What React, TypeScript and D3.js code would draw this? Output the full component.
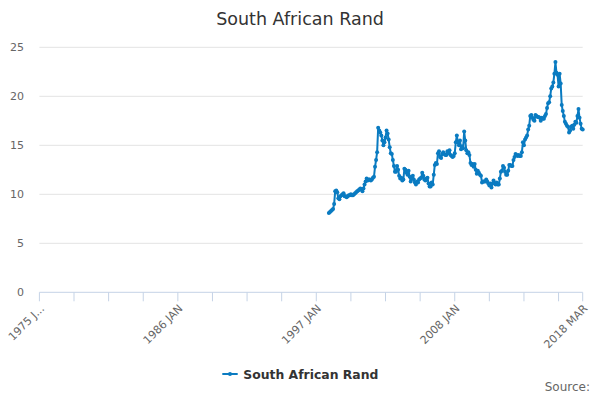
import React from "react";
import * as d3 from "d3";

// Monthly categories Jan 1975 .. Mar 2018 (519 months)
const startYear = 1975;
const monthCount = 519;
const monthNames = ["JAN","FEB","MAR","APR","MAY","JUN","JUL","AUG","SEP","OCT","NOV","DEC"];
const categories: string[] = Array.from({ length: monthCount }, (_, i) =>
  `${startYear + Math.floor(i / 12)} ${monthNames[i % 12]}`
);

// Series begins at 1998 JAN (category index 276)
const seriesStart = "1998 JAN";
const randValues: number[] = [
  // 1998
  8.1, 8.2, 8.3, 8.4, 8.5, 9.0, 10.3, 10.4, 10.2, 9.6, 9.5, 9.8,
  // 1999
  9.9, 10.0, 10.1, 9.8, 9.8, 9.7, 9.8, 9.9, 9.9, 10.0, 9.9, 9.9,
  // 2000
  10.0, 10.1, 10.2, 10.3, 10.4, 10.5, 10.6, 10.5, 10.3, 10.6, 11.0, 11.3,
  // 2001
  11.6, 11.4, 11.5, 11.5, 11.4, 11.5, 11.7, 11.8, 12.8, 13.5, 14.3, 16.8,
  // 2002
  16.5, 16.3, 16.0, 15.5, 15.0, 15.3, 15.8, 16.5, 16.2, 15.6, 14.8, 14.2,
  // 2003
  14.1, 13.5, 12.9, 12.3, 12.3, 12.9, 12.5, 11.9, 11.6, 11.7, 11.4, 11.5,
  // 2004
  12.6, 12.5, 12.2, 12.0, 12.4, 11.8, 11.3, 11.7, 11.9, 11.5, 11.2, 11.0,
  // 2005
  11.3, 11.2, 11.5, 11.6, 11.7, 12.2, 11.9, 11.5, 11.4, 11.6, 11.7, 11.1,
  // 2006
  10.8, 10.8, 11.2, 11.0, 12.0, 13.0, 13.2, 13.1, 14.2, 14.4, 13.8, 13.7,
  // 2007
  14.1, 14.3, 14.1, 14.0, 14.0, 14.4, 14.2, 14.5, 14.0, 13.9, 13.8, 13.9,
  // 2008
  14.2, 15.3, 16.0, 15.3, 15.0, 15.5, 14.6, 14.9, 14.7, 16.4, 15.5, 14.5,
  // 2009
  14.2, 14.3, 14.0, 13.2, 13.0, 13.1, 12.8, 13.1, 12.5, 12.1, 12.4, 12.2,
  // 2010
  12.0, 11.9, 11.2, 11.3, 11.3, 11.3, 11.5, 11.3, 11.1, 10.9, 11.1, 10.7,
  // 2011
  11.1, 11.4, 11.1, 11.0, 11.2, 11.0, 11.0, 11.6, 12.3, 12.4, 12.9, 12.7,
  // 2012
  12.3, 12.0, 12.0, 12.4, 13.0, 13.0, 12.9, 12.9, 13.5, 13.8, 14.1, 14.0,
  // 2013
  13.9, 14.0, 13.9, 13.9, 14.3, 15.3, 15.0, 15.6, 15.8, 16.0, 16.6, 17.0,
  // 2014
  18.0, 18.1, 17.8, 17.6, 17.5, 18.1, 18.0, 17.9, 17.9, 17.8, 17.5, 17.8,
  // 2015
  17.7, 17.7, 18.0, 18.2, 18.8, 19.3, 19.4, 20.0, 20.8, 21.0, 21.4, 22.3,
  // 2016
  23.5, 22.4, 22.2, 21.0, 22.3, 21.3, 19.1, 18.5, 18.0, 17.4, 17.2, 17.0,
  // 2017
  16.9, 16.3, 16.5, 16.9, 17.0, 16.7, 17.1, 17.4, 17.3, 18.0, 18.7, 17.8,
  // 2018
  17.2, 16.7, 16.6,
];

const yTicks = [0, 5, 10, 15, 20, 25];
const xTickStep = 33;
const xLabels = [
  { cat: "1975 JAN", text: "1975 J..." },
  { cat: "1986 JAN", text: "1986 JAN" },
  { cat: "1997 JAN", text: "1997 JAN" },
  { cat: "2008 JAN", text: "2008 JAN" },
  { cat: "2018 MAR", text: "2018 MAR" },
];

const title = "South African Rand";
const seriesName = "South African Rand";
const sourceText = "Source:";

const W = 600;
const H = 400;
const left = 39.4;
const right = 582.7;
const top = 47.3;
const bottom = 292.3;
const color = "#0a7bc1";
const font = "'DejaVu Sans', Verdana, sans-serif";

export default function App() {
  const x = d3.scaleLinear().domain([0, monthCount - 1]).range([left, right]);
  const y = d3.scaleLinear().domain([0, 25]).range([bottom, top]);
  const s0 = categories.indexOf(seriesStart);
  const pts: [number, number][] = randValues.map((v, i) => [s0 + i, v]);
  const line = d3
    .line<[number, number]>()
    .x((d) => x(d[0]))
    .y((d) => y(d[1]));

  const tickIdx: number[] = [];
  for (let i = 0; i < monthCount; i += xTickStep) tickIdx.push(i);
  tickIdx.push(monthCount - 1);

  return (
    <svg
      width={W}
      height={H}
      style={{ position: "absolute", left: 0, top: 0, background: "#fff" }}
      fontFamily={font}
    >
      <text x={300} y={25} textAnchor="middle" fontSize={17.5} fill="#333">
        {title}
      </text>
      {yTicks.map((t) => (
        <g key={t}>
          {t > 0 && (
            <line x1={left} x2={right} y1={y(t)} y2={y(t)} stroke="#e3e3e3" strokeWidth={1} />
          )}
          <text x={24} y={y(t)} dy="0.35em" textAnchor="end" fontSize={11} fill="#666">
            {t}
          </text>
        </g>
      ))}
      <line x1={left} x2={right} y1={bottom} y2={bottom} stroke="#c5d3e6" strokeWidth={1} />
      {tickIdx.map((i) => (
        <line key={i} x1={x(i)} x2={x(i)} y1={bottom} y2={bottom + 9} stroke="#c5d3e6" strokeWidth={1} />
      ))}
      {xLabels.map((l) => {
        const xi = x(categories.indexOf(l.cat));
        const yi = bottom + 17;
        return (
          <text
            key={l.cat}
            x={xi}
            y={yi}
            textAnchor="end"
            fontSize={11}
            fill="#666"
            transform={`rotate(-45 ${xi} ${yi})`}
            dx={4}
            dy="0.35em"
          >
            {l.text}
          </text>
        );
      })}
      <path d={line(pts) || ""} fill="none" stroke={color} strokeWidth={2} strokeLinejoin="round" />
      {pts.map((p, i) => (
        <circle key={i} cx={x(p[0])} cy={y(p[1])} r={2} fill={color} />
      ))}
      <line x1={222.3} x2={237.7} y1={374} y2={374} stroke={color} strokeWidth={2} />
      <circle cx={230} cy={374} r={2} fill={color} />
      <text x={243.3} y={378.5} fontSize={12.4} fontWeight="bold" fill="#333">
        {seriesName}
      </text>
      <text x={590} y={391} textAnchor="end" fontSize={12} fill="#666">
        {sourceText}
      </text>
    </svg>
  );
}
